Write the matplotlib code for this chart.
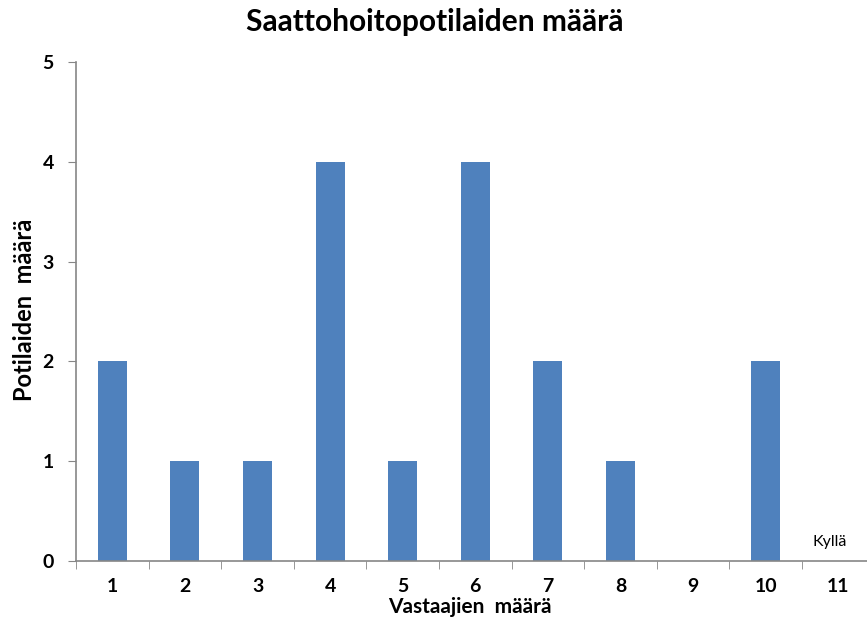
import matplotlib
matplotlib.use('Agg')
import matplotlib.pyplot as plt
import numpy as np

plt.rcParams['font.family'] = ['Lato', 'DejaVu Sans']

# Data
categories = ['1', '2', '3', '4', '5', '6', '7', '8', '9', '10', '11']
patients = [2, 1, 1, 4, 1, 4, 2, 1, 0, 2, 0]
y_ticks = [0, 1, 2, 3, 4, 5]

bar_color = '#4F81BD'
axis_color = '#868686'

fig = plt.figure(figsize=(8.67, 6.36), dpi=100)
ax = fig.add_axes([76 / 867, 75 / 636, 798.6 / 867, 499 / 636])

x = np.arange(1, len(categories) + 1)
ax.bar(x, patients, width=0.4, color=bar_color, zorder=2)

ax.set_xlim(0.5, len(categories) + 0.5)
ax.set_ylim(0, 5)

# Ticks: y outside, x between categories
ax.set_yticks(y_ticks)
ax.set_yticklabels([str(t) for t in y_ticks], fontsize=14, fontweight='bold')
ax.set_xticks(x)
ax.set_xticklabels(categories, fontsize=14, fontweight='bold')
ax.tick_params(axis='x', length=0, pad=12)
ax.set_xticks(np.arange(0.5, len(categories) + 1.0, 1.0), minor=True)
ax.tick_params(axis='x', which='minor', length=6, color=axis_color, direction='out')
ax.tick_params(axis='y', length=6, color=axis_color, direction='out', pad=10)

for side in ['top', 'right']:
    ax.spines[side].set_visible(False)
for side in ['left', 'bottom']:
    ax.spines[side].set_color(axis_color)
    ax.spines[side].set_linewidth(1.2)

ax.text(10.88, 0.19, 'Kyllä', fontsize=11.5, ha='center', va='center')

fig.text(435 / 867, 1 - 22 / 636, 'Saattohoitopotilaiden määrä',
         fontsize=21.5, fontweight='bold', ha='center', va='center')
fig.text(25 / 867, 1 - 310 / 636, 'Potilaiden  määrä', rotation=90,
         fontsize=17, fontweight='bold', ha='center', va='center')
fig.text(470 / 867, 1 - 607 / 636, 'Vastaajien  määrä',
         fontsize=15, fontweight='bold', ha='center', va='center')

fig.savefig('out.png', dpi=100)
